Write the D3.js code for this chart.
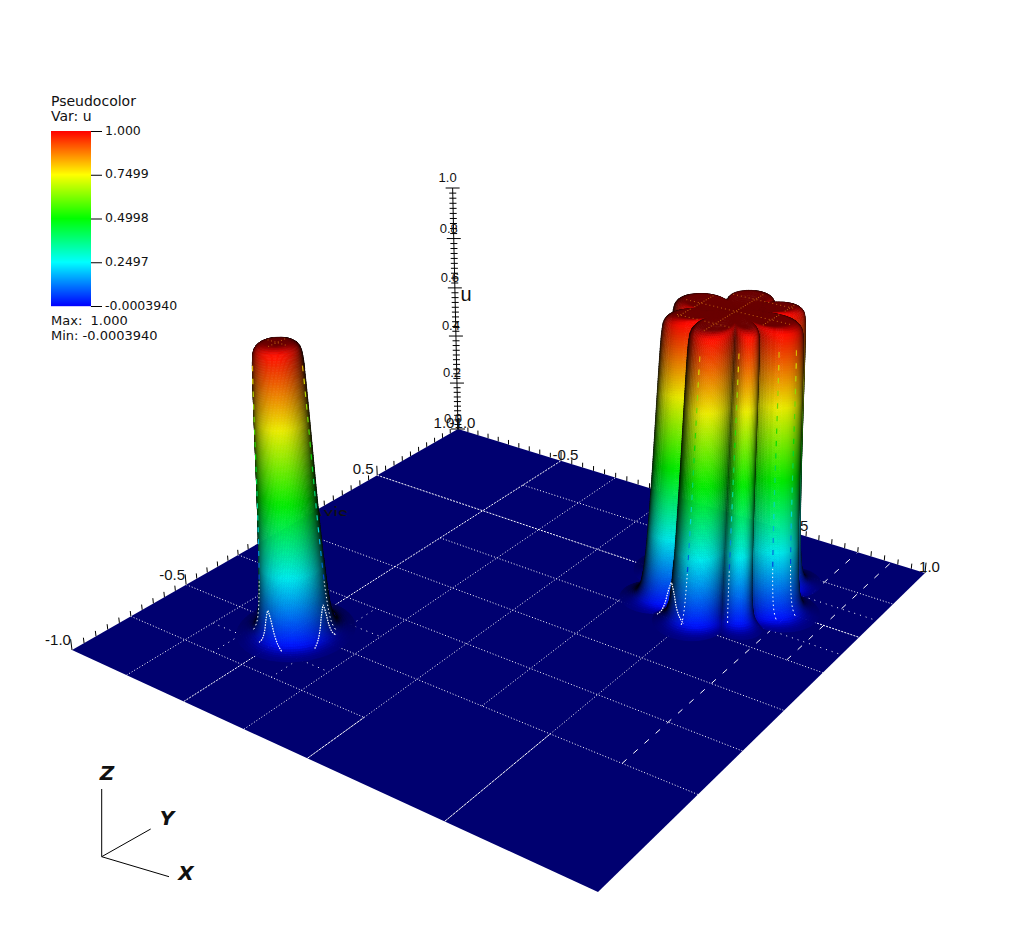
<!DOCTYPE html>
<html>
<head>
<meta charset="utf-8">
<title>Pseudocolor u</title>
<script src="https://cdn.jsdelivr.net/npm/d3@7"></script>
<style>
  html, body { margin: 0; background: #fff; }
  text { font-family: "DejaVu Sans", sans-serif; fill: #111; }
  .ax text { font-family: "Liberation Sans", sans-serif; }
</style>
</head>
<body>
<div id="chart"></div>
<script>
// legend
const legendValues = [1.0, 0.7499, 0.4998, 0.2497, -0.000394];
const legendLabels = ["1.000", "0.7499", "0.4998", "0.2497", "-0.0003940"];
const colorStops = [0, 0.25, 0.5, 0.75, 1];
const colorNames = ["#0000ff", "#00ffff", "#00ff00", "#ffff00", "#ff0000"];

// axis ticks
const zTicks = [0, 0.2, 0.4, 0.6, 0.8, 1.0];
const planeTicks = [-1, -0.5, 0.5, 1];

// height profile of a column: height / radius
const profileZ = [0, 0.003, 0.012, 0.03, 0.06, 0.15, 0.3, 0.5, 0.7, 0.88, 0.96, 0.985, 0.995, 1, 1, 1];
const profileR = [0.19, 0.165, 0.14, 0.128, 0.118, 0.108, 0.1, 0.092, 0.086, 0.08, 0.076, 0.069, 0.056, 0.04, 0.02, 0];

// the two columns
const leftCentre = [-0.5, -0.5];
const rightCentre = [0.5, 0.5];
// lobes of the right column, degrees around its centre
const lobeAngles = [-136, -88, -46, -1, 50, 100, 170];
const lobeHalfWidths = [24, 27, 16, 29, 23, 31, 33];
const lobeHeights = [1, 1, 0.55, 1, 1, 1, 1];
const lobeInner = 0.065;
const lobeDepth = 0.09;

// mesh lines on the plane: fixed coordinate, from, to
const meshX = [
  [-0.75, -1, -0.25], [-0.625, -0.75, -0.25], [-0.5, -1, 1], [-0.375, -0.75, -0.25], [-0.25, -1, 1],
  [0, -1, -0.75], [0, -0.75, 1], [0.25, -0.5, 1], [0.375, 0.25, 0.75],
  [0.5, -1, -0.5], [0.5, -0.5, 1], [0.625, 0.25, 0.75], [0.75, -0.5, 1], [0.875, 0.25, 1]
];
const meshY = [
  [-0.75, -1, 0], [-0.625, -0.75, -0.25], [-0.5, -1, 1], [-0.375, -0.75, -0.25], [-0.25, -1, 1],
  [0, -1, 1], [0.25, -0.5, 1], [0.375, 0.25, 1], [0.5, -1, 1], [0.625, 0.25, 1], [0.75, -0.5, 1]
];

// mesh lines that climb the column flanks: foot x, foot y, runs along x?
const bumps = [[-0.495, -0.625, true], [-0.375, -0.5, false], [0.45, 0.25, true]];
const bumpOffsets = [-0.05, -0.035, -0.022, -0.012, -0.004, 0, 0.004, 0.012, 0.022, 0.035, 0.05];
const bumpHeights = [0, 0.018, 0.05, 0.095, 0.125, 0.135, 0.125, 0.095, 0.05, 0.018, 0];
// angles (degrees) of the broken lines running up the columns
const leftRisers = [-132, 22];
const rightRisers = [-87, -56, -19, -6];
const topOffsets = [-0.125, 0, 0.125];

// picture of the plane corners and vertical vanishing point
const width = 1024, height = 952;
const left = [72, 650], front = [598, 892], right = [925, 573], back = [458, 429];
const vanish = [545, 4335];
const zAxisTopY = 188;
const view = [0.537, -0.734, 0.415];

const svg = d3.select("#chart").append("svg").attr("width", width).attr("height", height);

// homography square -> quad
const dx1 = front[0] - right[0], dx2 = back[0] - right[0], sx = left[0] - front[0] + right[0] - back[0];
const dy1 = front[1] - right[1], dy2 = back[1] - right[1], sy = left[1] - front[1] + right[1] - back[1];
const den = dx1 * dy2 - dx2 * dy1;
const g = (sx * dy2 - sy * dx2) / den;
const h = (dx1 * sy - dy1 * sx) / den;
const a = front[0] - left[0] + g * front[0], b = back[0] - left[0] + h * back[0], c = left[0];
const d = front[1] - left[1] + g * front[1], e = back[1] - left[1] + h * back[1], f = left[1];
const K = (e + f - zAxisTopY * (h + 1)) / (zAxisTopY - vanish[1]);

const sScale = d3.scaleLinear().domain([-1, 1]).range([0, 1]);

function project(x, y, z) {
  const s = sScale(x), t = sScale(y);
  const w = g * s + h * t + 1 + K * z;
  return [(a * s + b * t + c + K * vanish[0] * z) / w, (d * s + e * t + f + K * vanish[1] * z) / w];
}

const color = d3.scaleLinear().domain(colorStops).range(colorNames).clamp(true);
const line = d3.line();

function shaded(z, amount) {
  const col = d3.rgb(color(z));
  return d3.rgb(col.r * amount, col.g * amount, col.b * amount).formatHex();
}

// plane, dark because we look at it from a low angle
svg.append("path")
  .attr("d", line([project(-1, -1, 0), project(1, -1, 0), project(1, 1, 0), project(-1, 1, 0)]) + "Z")
  .attr("fill", "#000070");

// mesh
function meshDash(p, q, fixed, isX) {
  if ((p[1] + q[1]) / 2 > 730) return "3 0.6";
  if (isX && fixed >= 0.75) return "6 9";
  if (Number.isInteger(fixed * 4) === false) return "1 5";
  if ((isX && fixed === -0.5) || (!isX && fixed === 0.5)) return "2 1.2";
  return "1 2";
}
const meshG = svg.append("g").attr("fill", "none").attr("stroke", "#fff").attr("stroke-width", 1);
meshX.forEach(m => {
  const p = project(m[0], m[1], 0), q = project(m[0], m[2], 0);
  meshG.append("path").attr("d", line([p, q])).attr("stroke-dasharray", meshDash(p, q, m[0], true));
});
meshY.forEach(m => {
  const p = project(m[1], m[0], 0), q = project(m[2], m[0], 0);
  meshG.append("path").attr("d", line([p, q])).attr("stroke-dasharray", meshDash(p, q, m[0], false));
});

// ticks on the two back edges
const tickG = svg.append("g").attr("stroke", "#000").attr("stroke-width", 1);
d3.range(-20, 21).forEach(i => {
  const v = i / 20, big = i % 10 === 0 ? 0.04 : 0.02;
  tickG.append("path").attr("d", line([project(-1, v, 0), project(-1, v, big)]));
  tickG.append("path").attr("d", line([project(v, 1, 0), project(v, 1, big)]));
});

// z axis
const zG = svg.append("g").attr("stroke", "#000").attr("stroke-width", 1);
zG.append("path").attr("d", line([project(-1, 1, 0), project(-1, 1, 1)]));
d3.range(0, 51).forEach(i => {
  const p = project(-1, 1, i / 50), half = i % 10 === 0 ? 7 : 3.5;
  zG.append("path").attr("d", line([[p[0] - half, p[1]], [p[0] + half, p[1]]]));
});

const labels = svg.append("g").attr("class", "ax").attr("text-anchor", "middle");
zTicks.forEach(v => {
  const p = project(-1, 1, v);
  labels.append("text").attr("x", p[0] - 5).attr("y", p[1] - 6).attr("font-size", 13).text(v.toFixed(1));
});
planeTicks.forEach(v => {
  let p = project(-1, v, 0);
  labels.append("text").attr("x", p[0] - 14).attr("y", p[1] - (v < 0 ? 5 : 1)).attr("font-size", 15)
    .text(v.toFixed(1));
  p = project(v, 1, 0);
  labels.append("text").attr("x", p[0] + 4.5).attr("y", p[1] - 1).attr("font-size", 15).text(v.toFixed(1));
});
labels.append("text").attr("x", 466).attr("y", 301).attr("font-size", 20).text("u");

// the axis title is mostly hidden, only a slab of it shows beside the column
svg.append("clipPath").attr("id", "titleSlab").append("rect")
  .attr("x", 300).attr("y", 504).attr("width", 60).attr("height", 12);
svg.append("g").attr("class", "ax").attr("clip-path", "url(#titleSlab)").append("text")
  .attr("x", 348).attr("y", 521).attr("text-anchor", "end").attr("font-size", 20).text("Y-Axis");

// surface
const radiusAtT = d3.interpolateBasis(profileR), heightAtT = d3.interpolateBasis(profileZ);

// rows of the surface equally spaced along the profile, not in t
const denseT = d3.range(0, 1.0005, 0.001);
const denseLen = [0];
denseT.slice(1).forEach((t, i) => {
  const p = denseT[i];
  denseLen.push(denseLen[i] + Math.hypot(radiusAtT(t) - radiusAtT(p), heightAtT(t) - heightAtT(p)));
});
const tAtLength = d3.scaleLinear().domain(denseLen).range(denseT);
const totalLen = denseLen[denseLen.length - 1];
const denseZ = denseT.map(heightAtT);

function radiusAtZ(z) {
  return radiusAtT(denseT[Math.min(d3.bisectLeft(denseZ, z), denseT.length - 1)]);
}

function lobeRadius(theta) {
  const deg = theta * 180 / Math.PI;
  let best = 0;
  lobeAngles.forEach((ang, i) => {
    const diff = ((deg - ang + 540) % 360 + 360) % 360 - 180;
    const u = diff / lobeHalfWidths[i];
    if (Math.abs(u) < 1) best = Math.max(best, lobeHeights[i] * Math.pow(1 - u * u, 0.8));
  });
  return lobeInner + lobeDepth * best;
}

function buildColumn(centre, extra, nTheta, nRows, nCap) {
  const grid = [];
  for (let i = 0; i <= nRows + nCap; i++) {
    const row = [];
    for (let j = 0; j <= nTheta; j++) {
      const th = j / nTheta * 2 * Math.PI;
      let r, z;
      if (i <= nRows) {
        const t = tAtLength(i / nRows * totalLen);
        r = radiusAtT(t) + extra(th);
        z = heightAtT(t);
      } else {
        r = (1 - (i - nRows) / nCap) * extra(th);
        z = heightAtT(1);
      }
      row.push([centre[0] + r * Math.cos(th), centre[1] + r * Math.sin(th), z]);
    }
    grid.push(row);
  }
  const quads = [];
  for (let i = 0; i < nRows + nCap; i++) {
    for (let j = 0; j < nTheta; j++) {
      const p = grid[i][j], q = grid[i][j + 1], r = grid[i + 1][j + 1], s = grid[i + 1][j];
      const u = [r[0] - p[0], r[1] - p[1], r[2] - p[2]], w = [s[0] - q[0], s[1] - q[1], s[2] - q[2]];
      let n = [u[1] * w[2] - u[2] * w[1], u[2] * w[0] - u[0] * w[2], u[0] * w[1] - u[1] * w[0]];
      const len = Math.hypot(n[0], n[1], n[2]);
      if (len < 1e-12) continue;
      n = n.map(v => v / len);
      if (n[2] < 0) n = n.map(v => -v);
      const lit = n[0] * view[0] + n[1] * view[1] + n[2] * view[2];
      if (lit <= 0) continue;
      const mid = [(p[0] + r[0]) / 2, (p[1] + r[1]) / 2, (p[2] + r[2]) / 2];
      quads.push({
        pts: [p, q, r, s].map(o => project(o[0], o[1], o[2])),
        depth: mid[0] * view[0] + mid[1] * view[1] + mid[2] * view[2],
        fill: shaded(mid[2], lit)
      });
    }
  }
  return quads;
}

const noLobes = () => 0;
const quads = buildColumn(leftCentre, noLobes, 120, 130, 1)
  .concat(buildColumn(rightCentre, lobeRadius, 240, 130, 8))
  .sort((p, q) => p.depth - q.depth);

svg.append("g").selectAll("path").data(quads).join("path")
  .attr("d", o => line(o.pts) + "Z")
  .attr("fill", o => o.fill)
  .attr("stroke", o => o.fill)
  .attr("stroke-width", 0.6);

// mesh seen through the surface
const overlay = svg.append("g").attr("fill", "none");
const curved = d3.line().curve(d3.curveCatmullRom);
bumps.forEach(bp => {
  const pts = bumpOffsets.map((o, i) => bp[2]
    ? project(bp[0] + o, bp[1], bumpHeights[i]) : project(bp[0], bp[1] + o, bumpHeights[i]));
  overlay.append("path").attr("d", curved(pts)).attr("stroke", "#fff").attr("stroke-width", 1.2)
    .attr("stroke-dasharray", "1.6 1");
});

function drawRisers(centre, extra, angles) {
  angles.forEach(deg => {
    const th = deg * Math.PI / 180;
    const at = z => {
      const r = radiusAtZ(z) + extra(th);
      return project(centre[0] + r * Math.cos(th), centre[1] + r * Math.sin(th), z);
    };
    d3.range(0.02, 0.2, 0.014).forEach(z => {
      overlay.append("path").attr("d", line([at(z), at(z + 0.005)])).attr("stroke", "#fff");
    });
    d3.range(0.2, 0.94, 0.042).forEach(z => {
      overlay.append("path").attr("d", line([at(z), at(z + 0.018)]))
        .attr("stroke", shaded(z - 0.12, 0.85)).attr("stroke-width", 1.2);
    });
  });
}
drawRisers(leftCentre, noLobes, leftRisers);
drawRisers(rightCentre, lobeRadius, rightRisers);

function drawTopDots(centre, extra) {
  topOffsets.forEach(off => {
    d3.range(-0.26, 0.26, 0.014).forEach(v => {
      [[off, v], [v, off]].forEach(q => {
        const rr = Math.hypot(q[0], q[1]);
        if (rr > extra(Math.atan2(q[1], q[0])) + 0.04) return;
        const p = project(centre[0] + q[0], centre[1] + q[1], 1);
        svg.append("rect").attr("x", p[0] - 0.5).attr("y", p[1] - 0.5).attr("width", 1).attr("height", 1)
          .attr("fill", "#c06010");
      });
    });
  });
}
drawTopDots(leftCentre, noLobes);
drawTopDots(rightCentre, lobeRadius);

// legend
const legendY = d3.scaleLinear().domain([-0.000394, 1]).range([306, 131]);
const legend = svg.append("g");
d3.range(131, 306).forEach(y => {
  legend.append("rect").attr("x", 51).attr("y", y).attr("width", 40).attr("height", 1.2)
    .attr("fill", color(legendY.invert(y + 0.5)));
});
const legendAxis = d3.axisRight(legendY)
  .tickValues(legendValues)
  .tickSize(11)
  .tickPadding(3)
  .tickFormat((v, i) => legendLabels[i]);
const legendAxisG = svg.append("g").attr("transform", "translate(91,0)").call(legendAxis);
legendAxisG.select(".domain").remove();
legendAxisG.selectAll("text").attr("font-size", 12.5).attr("font-family", null).attr("dy", "0.25em");

const titleLines = [["Pseudocolor", 106, 14], ["Var: u", 121, 14], ["Max:  1.000", 325, 13], ["Min: -0.0003940", 340, 13]];
titleLines.forEach(t => svg.append("text").attr("x", 51).attr("y", t[1]).attr("font-size", t[2])
  .attr("xml:space", "preserve").text(t[0]));

// triad
const triadOrigin = [101.7, 856.7];
const triadEnds = [[169, 876.7, "X", 186, 880], [150.7, 829, "Y", 167, 825], [101.7, 789, "Z", 107, 780]];
triadEnds.forEach(t => {
  svg.append("path").attr("d", line([triadOrigin, [t[0], t[1]]])).attr("stroke", "#000").attr("fill", "none");
  svg.append("text").attr("x", t[3]).attr("y", t[4]).attr("text-anchor", "middle")
    .attr("font-size", 20).attr("font-weight", "bold").attr("font-style", "italic").text(t[2]);
});
</script>
</body>
</html>
